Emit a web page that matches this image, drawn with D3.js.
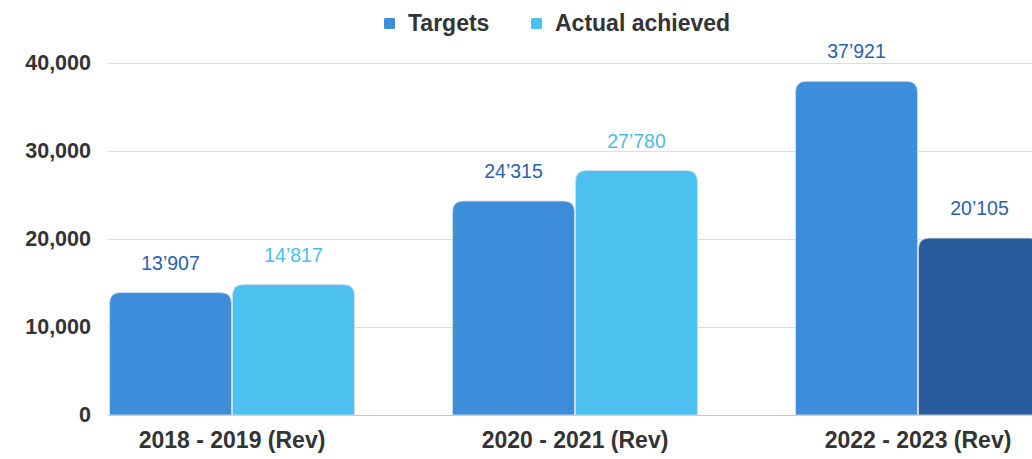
<!DOCTYPE html>
<html>
<head>
<meta charset="utf-8">
<script src="https://cdn.jsdelivr.net/npm/d3@7/dist/d3.min.js"></script>
<style>
  html, body { margin: 0; padding: 0; background: #fff; }
  svg { display: block; font-family: "Liberation Sans", Arial, sans-serif; }
</style>
</head>
<body>
<svg id="chart" width="1032" height="459"></svg>
<script>
// Periods and values
const periods = ["2018 - 2019 (Rev)", "2020 - 2021 (Rev)", "2022 - 2023 (Rev)"];
const targets = [13907, 24315, 37921];
const achieved = [14817, 27780, 20105];
const seriesNames = ["Targets", "Actual achieved"];
const yTicks = [0, 10000, 20000, 30000, 40000];

// Styling
const colTarget = "#3d8ddb";
const colAchieved = "#4cc1ef";
const colInProgress = "#275b9b";   // current, not yet completed period
const inProgressIndex = 2;
const labelTarget = "#2c62a8";
const labelAchieved = "#4cbdea";

const svg = d3.select("#chart");
const W = 1032, H = 459;

const y = d3.scaleLinear().domain([0, 40000]).range([415, 63]);
const x0 = d3.scaleBand().domain(periods).range([60.5, 1089.5])
  .paddingInner(0.283).paddingOuter(0.1415);
const x1 = d3.scaleBand().domain(seriesNames).range([0, x0.bandwidth()]).padding(0);

// Gridlines
svg.append("g").selectAll("line").data(yTicks).join("line")
  .attr("x1", 108).attr("x2", W)
  .attr("y1", d => Math.round(y(d)) + 0.5).attr("y2", d => Math.round(y(d)) + 0.5)
  .attr("stroke", d => d === 0 ? "#c8c8c8" : "#dedede").attr("stroke-width", 1);

// Y axis labels
const yAxis = d3.axisLeft(y).tickValues(yTicks).tickSize(0).tickPadding(0)
  .tickFormat(d3.format(","));
const gy = svg.append("g").attr("transform", "translate(91,0)").call(yAxis);
gy.select(".domain").remove();
gy.selectAll("text").attr("font-size", 21.5).attr("font-weight", "bold")
  .attr("fill", "#333").attr("font-family", "Liberation Sans, Arial, sans-serif");

// Bars with rounded top corners
function topRounded(x, yTop, w, h, r) {
  r = Math.min(r, h, w / 2);
  return `M${x},${yTop + h}V${yTop + r}Q${x},${yTop} ${x + r},${yTop}` +
         `H${x + w - r}Q${x + w},${yTop} ${x + w},${yTop + r}V${yTop + h}Z`;
}

const fmt = v => d3.format(",")(v).replace(/,/g, "\u2019");

const rows = [];
periods.forEach((p, i) => {
  rows.push({ p, s: seriesNames[0], v: targets[i], fill: colTarget, lab: labelTarget });
  rows.push({ p, s: seriesNames[1], v: achieved[i],
    fill: i === inProgressIndex ? colInProgress : colAchieved,
    lab: i === inProgressIndex ? labelTarget : labelAchieved });
});

const gap = 1;
svg.append("g").selectAll("path").data(rows).join("path")
  .attr("d", d => {
    const bx = x0(d.p) + x1(d.s) + gap / 2;
    const bw = x1.bandwidth() - gap;
    return topRounded(bx, y(d.v), bw, y(0) - y(d.v), 11);
  })
  .attr("fill", d => d.fill)
  .attr("stroke", "#d8dde3").attr("stroke-width", 0.8);

// Value labels
svg.append("g").selectAll("text").data(rows).join("text")
  .attr("x", d => x0(d.p) + x1(d.s) + x1.bandwidth() / 2)
  .attr("y", d => y(d.v) - 23)
  .attr("text-anchor", "middle")
  .attr("font-size", 19.5)
  .attr("fill", d => d.lab)
  .text(d => fmt(d.v));

// X axis labels
svg.append("g").selectAll("text").data(periods).join("text")
  .attr("x", d => x0(d) + x0.bandwidth() / 2)
  .attr("y", 448)
  .attr("text-anchor", "middle")
  .attr("font-size", 23).attr("font-weight", "bold").attr("fill", "#333")
  .text(d => d);

// Legend
const legend = [
  { name: seriesNames[0], color: colTarget, x: 384 },
  { name: seriesNames[1], color: colAchieved, x: 531 }
];
const lg = svg.append("g").selectAll("g").data(legend).join("g")
  .attr("transform", d => `translate(${d.x},0)`);
lg.append("rect").attr("x", 0).attr("y", 18).attr("width", 11).attr("height", 11)
  .attr("rx", 1.5).attr("fill", d => d.color);
lg.append("text").attr("x", 24).attr("y", 31)
  .attr("font-size", 23).attr("font-weight", "bold").attr("fill", "#333")
  .text(d => d.name);
</script>
</body>
</html>
